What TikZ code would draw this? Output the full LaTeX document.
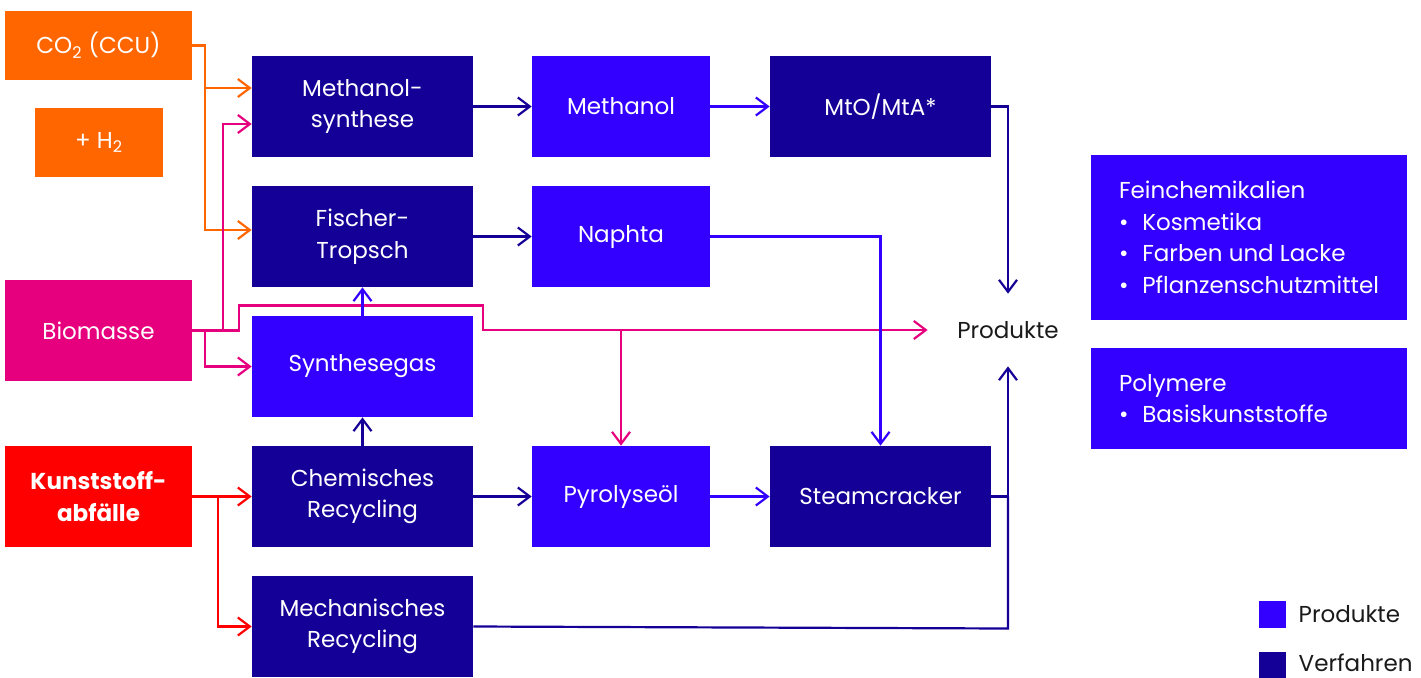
\documentclass[tikz,border=0pt]{standalone}
\usepackage{fontspec}
\setmainfont{Poppins}
\usetikzlibrary{arrows.meta,positioning}
\definecolor{dunkel}{HTML}{140096}
\definecolor{hell}{HTML}{3300FF}
\definecolor{orange2}{HTML}{FF6600}
\definecolor{pink2}{HTML}{E6007E}
\definecolor{rot2}{HTML}{FF0000}
\definecolor{schrift}{HTML}{1A1A1A}
\newcommand{\punkt}[1]{\mbox{\textbullet\hspace{0.6em}#1}}

\begin{document}
\begin{tikzpicture}[x=0.02cm,y=-0.02cm,
    box/.style={rectangle,inner sep=0pt,text=white,align=center,minimum height=2.02cm,
        font=\fontsize{13.1pt}{18pt}\selectfont},
    verf/.style={box,fill=dunkel,minimum width=4.42cm},
    prod/.style={box,fill=hell,minimum width=3.56cm},
    quelle/.style={box,minimum width=3.74cm},
    liste/.style={box,fill=hell,minimum width=6.32cm,align=flush left,text width=5.2cm},
    legbox/.style={rectangle,inner sep=0pt,minimum size=0.54cm},
    legtext/.style={font=\fontsize{13.1pt}{18pt}\selectfont,text=schrift,inner sep=0pt},
    pfeil/.style={-{Straight Barb[length=2.4mm,width=3.6mm]},line width=1.25pt},
    linie/.style={line width=1.25pt}]

    \useasboundingbox (0,0) rectangle (1421,677);

    \node[quelle,fill=orange2,minimum height=1.38cm] (co2) at (98.5,45.5) {CO\textsubscript{2} (CCU)};
    \node[box,fill=orange2,minimum width=2.56cm,minimum height=1.38cm] (h2) at (99,142.5) {+ H\textsubscript{2}};
    \node[quelle,fill=pink2] (bio) at (98.5,330.5) {Biomasse};
    \node[quelle,fill=rot2,font=\fontsize{13.1pt}{18pt}\selectfont\bfseries] (kunst) at (98.5,496.5) {Kunststoff-\\abfälle};

    \node[verf] (ms) at (362.5,106.5) {Methanol-\\synthese};
    \node[verf] (ft) at (362.5,236.5) {Fischer-\\Tropsch};
    \node[prod,minimum width=4.42cm] (sg) at (362.5,366.5) {Synthesegas};
    \node[verf] (cr) at (362.5,496.5) {Chemisches\\Recycling};
    \node[verf] (mr) at (362.5,626.5) {Mechanisches\\Recycling};

    \node[prod] (meth) at (621,106.5) {Methanol};
    \node[prod] (naph) at (621,236.5) {Naphta};
    \node[prod] (pyr) at (621,496.5) {Pyrolyseöl};

    \node[verf] (mto) at (880.5,106.5) {MtO/MtA*};
    \node[verf] (sc) at (880.5,496.5) {Steamcracker};

    \node[legtext,minimum width=3.2cm,minimum height=1.44cm] (pr) at (1008,330) {Produkte};

    \node[liste,minimum height=3.3cm] (fein) at (1249,237.5) {Feinchemikalien\\
        \punkt{Kosmetika}\\
        \punkt{Farben und Lacke}\\
        \punkt{Pflanzenschutzmittel}};
    \node[liste] (poly) at (1249,398.5) {Polymere\\
        \punkt{Basiskunststoffe}};

    \node[legbox,fill=hell] (lp) at (1272.5,614.5) {};
    \node[legtext,right=0.24cm of lp] {Produkte};
    \node[legbox,fill=dunkel] (lv) at (1272.5,665.5) {};
    \node[legtext,right=0.24cm of lv,yshift=0.06cm] {Verfahren};

    \draw[pfeil,orange2] (co2.east) -- ++(13,0) |- ([yshift=0.37cm]ms.west);
    \draw[pfeil,orange2] (co2.east) -- ++(13,0) |- ([yshift=0.13cm]ft.west);

    \draw[pfeil,pink2] (bio.east) -- ++(31,0) |- ([yshift=-0.35cm]ms.west);
    \draw[pfeil,pink2] (bio.east) -- ++(13,0) |- (sg.west);
    \draw[pfeil,pink2] (bio.east) -- ++(47,0) -- ++(0,-25) -- ++(244,0) |- (pr.west);
    \draw[pfeil,pink2] (pyr.north |- pr.west) -- (pyr.north);

    \draw[pfeil,dunkel] (ms.east) -- (meth.west);
    \draw[pfeil,hell] (meth.east) -- (mto.west);
    \draw[pfeil,dunkel] (mto.east) -| (pr.north);

    \draw[pfeil,dunkel] (ft.east) -- (naph.west);
    \draw[pfeil,hell] (naph.east) -| (sc.north);

    \draw[pfeil,hell] (sg.north) -- (ft.south);
    \draw[pfeil,dunkel] (cr.north) -- (sg.south);

    \draw[pfeil,dunkel] (cr.east) -- (pyr.west);
    \draw[pfeil,hell] (pyr.east) -- (sc.west);
    \draw[pfeil,dunkel] (sc.east) -| (pr.south);
    \draw[linie,dunkel] (mr.east) -- ([yshift=-0.04cm]pr.south |- mr.east) -- (sc.east -| pr.south);

    \draw[pfeil,rot2] (kunst.east) -- (cr.west);
    \draw[pfeil,rot2] (kunst.east) -- ++(26,0) |- (mr.west);

\end{tikzpicture}
\end{document}
